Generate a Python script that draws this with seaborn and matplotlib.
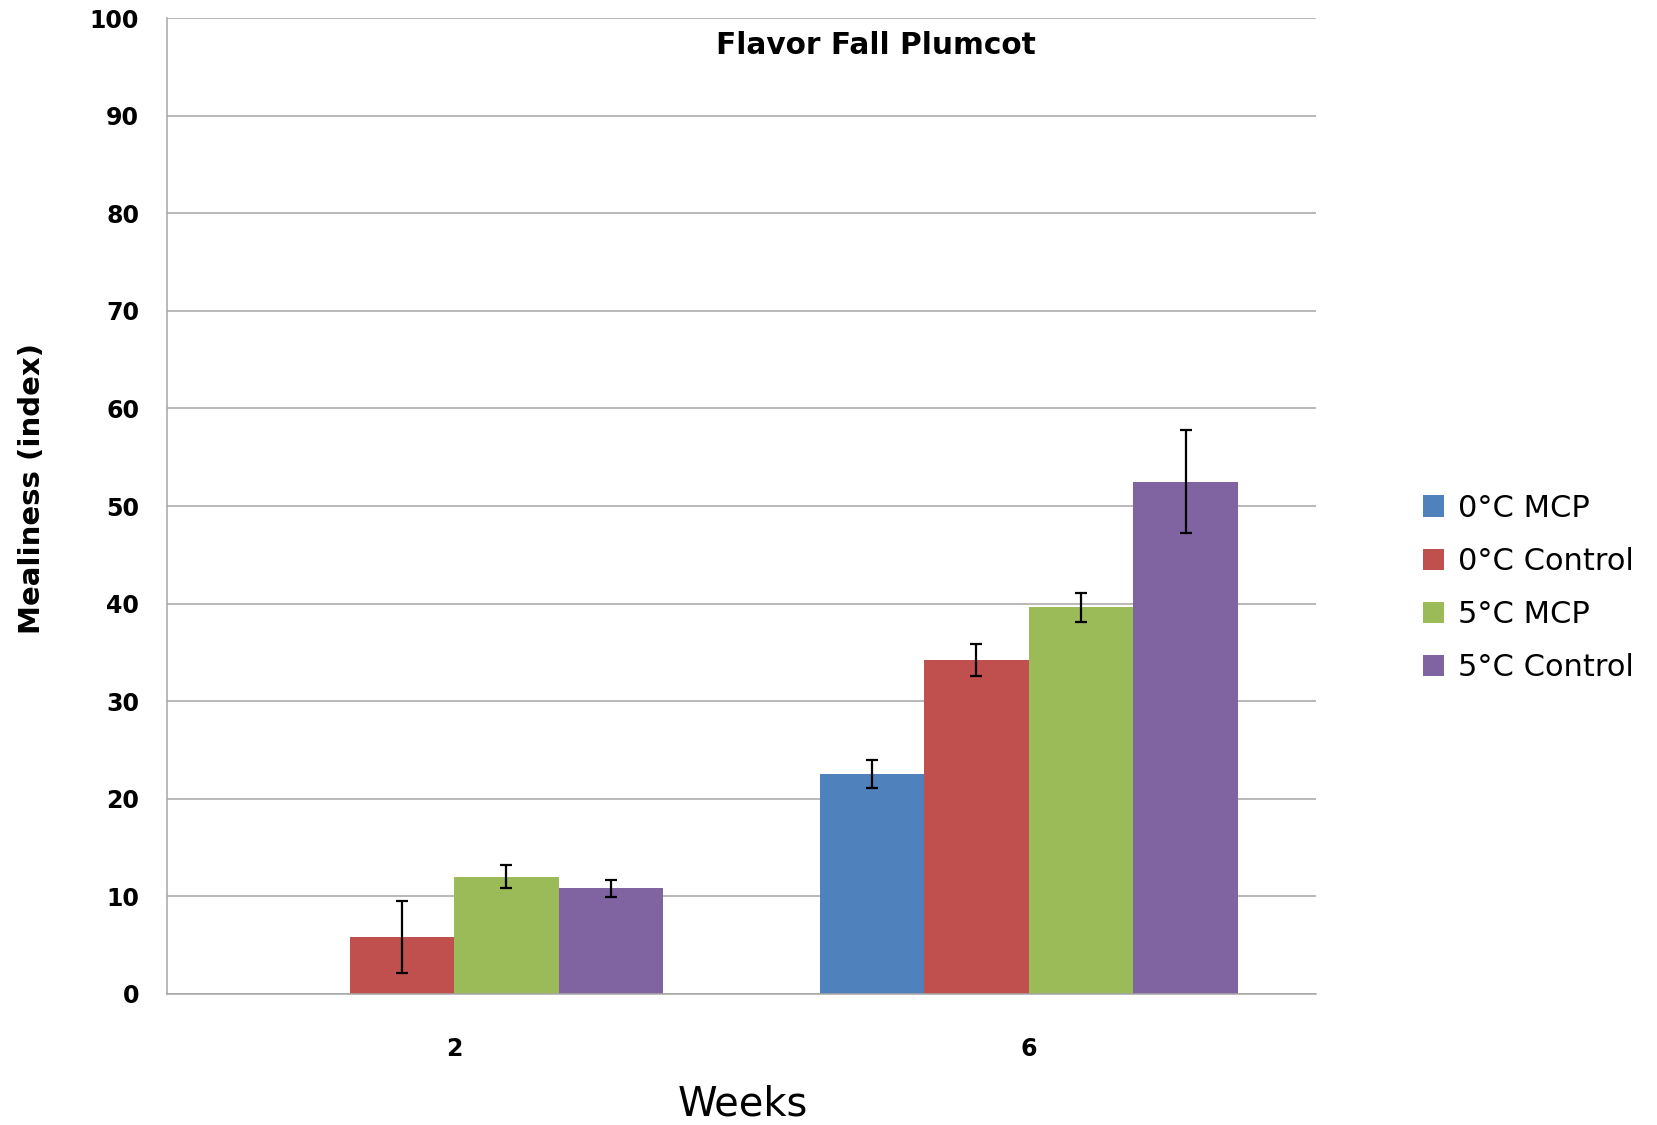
import numpy as np
import pandas as pd
import seaborn as sns
import matplotlib.pyplot as plt

# values
weeks = ["2", "6"]
treatments = ["0°C MCP", "0°C Control", "5°C MCP", "5°C Control"]
mcp_0c = [np.nan, 22.5]
control_0c = [5.8, 34.2]
mcp_5c = [12.0, 39.6]
control_5c = [10.8, 52.5]
err_mcp_0c = [np.nan, 1.45]
err_control_0c = [3.7, 1.65]
err_mcp_5c = [1.15, 1.5]
err_control_5c = [0.85, 5.25]
colors = ["#4F81BD", "#C0504D", "#9BBB59", "#8064A2"]

means = [mcp_0c, control_0c, mcp_5c, control_5c]
errs = [err_mcp_0c, err_control_0c, err_mcp_5c, err_control_5c]

rows = []
for t, vals in zip(treatments, means):
    for w, v in zip(weeks, vals):
        rows.append({"Weeks": w, "Treatment": t, "Mealiness": v})
df = pd.DataFrame(rows)

sns.set_style("white")
plt.rcParams["font.family"] = ["DejaVu Sans"]
plt.rcParams["text.color"] = "black"
plt.rcParams["xtick.labelcolor"] = "black"
plt.rcParams["ytick.labelcolor"] = "black"

fig = plt.figure(figsize=(16.58, 11.25), dpi=100)
ax = fig.add_axes([0.1007, 0.1167, 0.693, 0.867])

sns.barplot(data=df, x="Weeks", y="Mealiness", hue="Treatment",
            order=weeks, hue_order=treatments, palette=colors,
            width=0.728, errorbar=None, linewidth=0, saturation=1,
            ax=ax, legend=True)

# error bars placed on seaborn's own bars
bar_conts = list(ax.containers)
for i, cont in enumerate(bar_conts):
    for bar in cont:
        h = bar.get_height()
        if np.isnan(h):
            continue
        xc = bar.get_x() + bar.get_width() / 2
        cat = int(round(xc))
        e = errs[i][cat]
        if np.isnan(e):
            continue
        ax.errorbar(xc, h, yerr=e, fmt="none", ecolor="black",
                    elinewidth=1.6, capsize=4, capthick=1.6, zorder=5)

ax.set_ylim(0, 100)
ax.set_xlim(-0.5, 1.5)
ax.set_yticks(range(0, 101, 10))
ax.yaxis.grid(True, color="#A6A6A6", linewidth=1.1)
ax.set_axisbelow(True)
for s in ["top", "right"]:
    ax.spines[s].set_visible(False)
ax.spines["left"].set_color("#A6A6A6")
ax.spines["bottom"].set_color("#A6A6A6")
ax.spines["left"].set_linewidth(1.1)
ax.spines["bottom"].set_linewidth(1.1)

ax.tick_params(axis="y", length=7, width=1.1, color="#A6A6A6", pad=13,
               labelsize=17)
ax.tick_params(axis="x", which="major", length=0, pad=31, labelsize=17)
ax.set_xticks([-0.5, 0.5, 1.5], minor=True)
ax.tick_params(axis="x", which="minor", length=9, width=1.1, color="#A6A6A6")
for lab in ax.get_xticklabels() + ax.get_yticklabels():
    lab.set_fontweight("bold")

ax.set_xlabel("")
ax.set_ylabel("")

fig.text(876 / 1658, 1 - 53.5 / 1125, "Flavor Fall Plumcot", ha="center",
         va="baseline", fontsize=21.3, fontweight="bold")
fig.text(32 / 1658, 1 - 488 / 1125, "Mealiness (index)", rotation=90,
         ha="center", va="center", fontsize=21, fontweight="bold")
fig.text(743 / 1658, 1 / 1125, "Weeks", ha="center", va="bottom",
         fontsize=28.8)

handles, labels = ax.get_legend_handles_labels()
ax.get_legend().remove()
fig.legend(handles, labels, loc="center left",
           bbox_to_anchor=(1423 / 1658, 1 - 588 / 1125),
           frameon=False, fontsize=22, borderpad=0, borderaxespad=0,
           handlelength=0.7, handleheight=0.7, handletextpad=0.45,
           labelspacing=0.79)

fig.savefig("out.png", dpi=100)
